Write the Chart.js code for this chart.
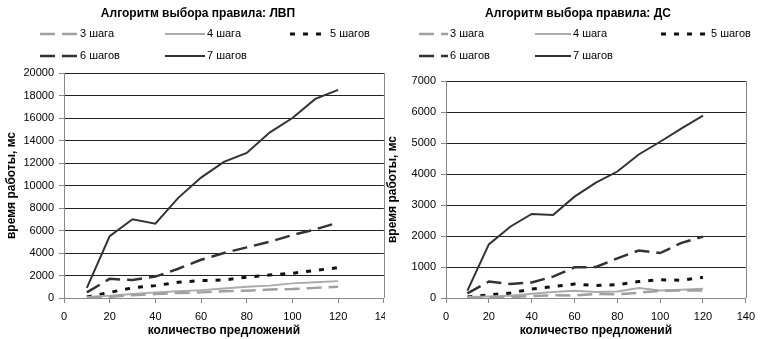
<!DOCTYPE html>
<html lang="ru">
<head>
<meta charset="UTF-8">
<title>Алгоритм выбора правила</title>
<style>
    * { margin: 0; padding: 0; box-sizing: border-box; }
    body { width: 762px; height: 339px; background: #fff; position: relative; overflow: hidden; }
    .box { position: absolute; top: 0; height: 339px; }
    #left { left: 0; width: 400px; }
    #right { left: 385px; width: 377px; background: #fff; }
</style>
</head>
<body>
<div class="box" id="left"><canvas id="chartLvp"></canvas></div>
<div class="box" id="right"><canvas id="chartDs"></canvas></div>

<script src="https://cdn.jsdelivr.net/npm/chart.js"></script>
<script>
    // количество предложений
    const sentences = [10, 20, 30, 40, 50, 60, 70, 80, 90, 100, 110, 120];
    const seriesNames = ['3 шага', '4 шага', '5 шагов', '6 шагов', '7 шагов'];

    // ЛВП, мс
    const lvp3 = [50, 100, 250, 350, 450, 500, 600, 650, 750, 800, 900, 1000];
    const lvp4 = [100, 200, 350, 500, 600, 700, 850, 1000, 1100, 1300, 1400, 1500];
    const lvp5 = [100, 500, 900, 1100, 1400, 1550, 1600, 1850, 2050, 2200, 2450, 2700];
    const lvp6 = [500, 1700, 1600, 1900, 2600, 3400, 4000, 4500, 5000, 5600, 6100, 6700];
    const lvp7 = [900, 5500, 7000, 6600, 8900, 10700, 12100, 12900, 14700, 16000, 17700, 18500];

    // ДС, мс
    const ds3 = [0, 20, 30, 60, 90, 80, 130, 120, 170, 230, 240, 240];
    const ds4 = [30, 50, 75, 140, 190, 235, 190, 210, 320, 245, 270, 300];
    const ds5 = [30, 100, 160, 290, 370, 450, 400, 430, 530, 590, 570, 670];
    const ds6 = [150, 530, 450, 500, 690, 990, 1000, 1280, 1530, 1450, 1780, 1980];
    const ds7 = [240, 1730, 2300, 2710, 2680, 3270, 3720, 4080, 4630, 5040, 5470, 5880];

    const FONT = "Arial, 'Liberation Sans', sans-serif";

    // line looks per series
    const styles = [
        { borderColor: '#a0a0a0', borderWidth: 2.5, borderDash: [15, 7] },
        { borderColor: '#ababab', borderWidth: 2, borderDash: [] },
        { borderColor: '#111', borderWidth: 3, borderDash: [5, 8] },
        { borderColor: '#333', borderWidth: 2.5, borderDash: [15, 7] },
        { borderColor: '#333', borderWidth: 2, borderDash: [] }
    ];

    // title, legend and plot frame, Excel style
    const excelDecor = {
        id: 'excelDecor',
        beforeDraw(chart) {
            const ctx = chart.ctx;
            ctx.save();
            ctx.fillStyle = '#fff';
            ctx.fillRect(0, 0, chart.width, chart.height);
            ctx.restore();
        },
        afterDraw(chart, args, opts) {
            const ctx = chart.ctx;
            const a = chart.chartArea;
            ctx.save();
            ctx.strokeStyle = '#888';
            ctx.lineWidth = 1;
            ctx.beginPath();
            ctx.moveTo(Math.round(a.right) + 0.5, Math.round(a.top));
            ctx.lineTo(Math.round(a.right) + 0.5, Math.round(a.bottom));
            ctx.stroke();

            ctx.fillStyle = '#000';
            ctx.font = 'bold 12px ' + FONT;
            ctx.textAlign = 'center';
            ctx.textBaseline = 'middle';
            ctx.fillText(opts.title, opts.titleX, 14);

            ctx.font = '11px ' + FONT;
            ctx.textAlign = 'left';
            chart.data.datasets.forEach((ds, i) => {
                const s = opts.slots[i];
                ctx.strokeStyle = ds.borderColor;
                ctx.lineWidth = ds.borderWidth;
                ctx.setLineDash(ds.borderDash);
                ctx.beginPath();
                ctx.moveTo(s[0], s[2]);
                ctx.lineTo(s[1], s[2]);
                ctx.stroke();
                ctx.setLineDash([]);
                ctx.fillStyle = '#000';
                ctx.fillText(ds.label, s[1] + 2, s[2]);
            });
            ctx.restore();
        }
    };

    function makeChart(id, series, cfg) {
        const datasets = series.map((vals, i) => Object.assign({
            label: seriesNames[i],
            data: vals.map((v, j) => ({ x: sentences[j], y: v })),
            pointRadius: 0,
            tension: 0,
            fill: false
        }, styles[i]));

        return new Chart(document.getElementById(id), {
            type: 'line',
            data: { datasets: datasets },
            plugins: [excelDecor],
            options: {
                responsive: true,
                maintainAspectRatio: false,
                animation: false,
                layout: { padding: { top: cfg.top, right: cfg.right, left: 0, bottom: 0 } },
                scales: {
                    x: {
                        type: 'linear',
                        min: 0, max: 140,
                        afterFit: s => { s.height = cfg.xHeight; },
                        ticks: { stepSize: 20, color: '#000', padding: 7, font: { family: FONT, size: 11 }, maxRotation: 0, callback: v => String(v) },
                        grid: { drawOnChartArea: false, tickLength: 5, tickColor: '#888' },
                        border: { color: '#888' },
                        title: { display: true, text: 'количество предложений', color: '#000', padding: { top: 2, bottom: 1 }, font: { family: FONT, size: 12, weight: 'bold' } }
                    },
                    y: {
                        min: 0, max: cfg.yMax,
                        afterFit: s => { s.width = cfg.yWidth; },
                        ticks: { stepSize: cfg.yStep, color: '#000', padding: 5, font: { family: FONT, size: 11 }, callback: v => String(v) },
                        grid: { color: '#222', tickLength: 5, tickColor: '#888' },
                        border: { color: '#888' },
                        title: { display: true, text: 'время работы, мс', color: '#000', padding: { top: cfg.yTitlePad, bottom: 0 }, font: { family: FONT, size: 12, weight: 'bold' } }
                    }
                },
                plugins: {
                    legend: { display: false },
                    tooltip: { enabled: false },
                    excelDecor: { title: cfg.title, titleX: cfg.titleX, slots: cfg.slots }
                }
            }
        });
    }

    makeChart('chartLvp', [lvp3, lvp4, lvp5, lvp6, lvp7], {
        title: 'Алгоритм выбора правила: ЛВП', titleX: 198,
        top: 73, right: 15, xHeight: 41, yWidth: 64, yMax: 20000, yStep: 2000, yTitlePad: 4,
        slots: [[40, 78, 34], [165, 205, 34], [290, 328, 34], [40, 78, 56], [165, 205, 56]]
    });

    makeChart('chartDs', [ds3, ds4, ds5, ds6, ds7], {
        title: 'Алгоритм выбора правила: ДС', titleX: 193,
        top: 81, right: 11, xHeight: 41, yWidth: 61, yMax: 7000, yStep: 1000, yTitlePad: 0,
        slots: [[34, 63, 34], [150, 186, 34], [276, 324, 34], [34, 63, 56], [150, 186, 56]]
    });
</script>
</body>
</html>
